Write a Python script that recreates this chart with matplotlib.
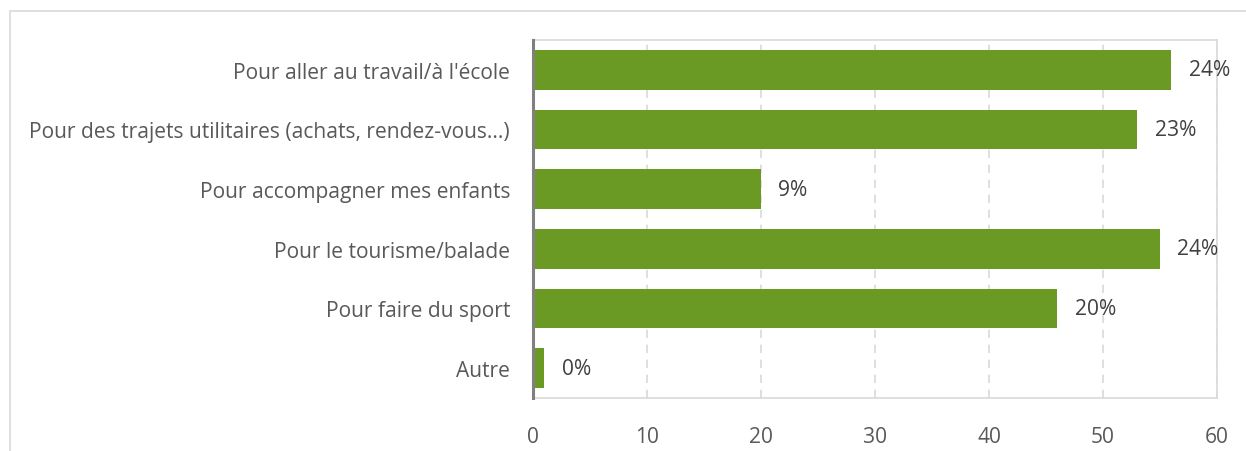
import matplotlib
matplotlib.use("Agg")
import matplotlib.pyplot as plt
from matplotlib.patches import Rectangle

categories = ["Pour aller au travail/à l'école",
              "Pour des trajets utilitaires (achats, rendez-vous...)",
              "Pour accompagner mes enfants",
              "Pour le tourisme/balade",
              "Pour faire du sport",
              "Autre"]
values = [56, 53, 20, 55, 46, 1]
pct_labels = ["24%", "23%", "9%", "24%", "20%", "0%"]
xticks = [0, 10, 20, 30, 40, 50, 60]

W, H = 1246, 452
plt.rcParams['font.family'] = ['Open Sans', 'DejaVu Sans']
fig = plt.figure(figsize=(W/100, H/100), dpi=100)
txt = '#595959'

# outer chart border
fig.patches.append(Rectangle((10/W, -0.1), 1.2, (H-12)/H + 0.1, transform=fig.transFigure,
                             fill=False, edgecolor='#d9d9d9', linewidth=1.2))

ax = fig.add_axes([533/W, 1-399/H, (1217-533)/W, (399-41)/H])
y = list(range(len(categories)))
ax.barh(y, values, height=0.66, color='#6b9a24', zorder=3)
ax.set_ylim(len(categories)-0.5, -0.5)
ax.set_xlim(0, 60)
ax.set_xticks(xticks)
ax.set_xticklabels([str(t) for t in xticks])
ax.set_yticks(y)
ax.set_yticklabels(categories)
ax.tick_params(axis='both', length=0, labelsize=15.1, colors=txt)
ax.tick_params(axis='x', pad=20)
ax.tick_params(axis='y', pad=16.5)
ax.grid(axis='x', color='#d9d9d9', linestyle=(0, (5, 4)), linewidth=1.2, zorder=0)
for s in ['top', 'right', 'bottom']:
    ax.spines[s].set_color('#d9d9d9')
    ax.spines[s].set_linewidth(1.2)
ax.spines['left'].set_color('#808080')
ax.spines['left'].set_linewidth(2.2)
ax.spines['left'].set_zorder(4)

for yi, v, lab in zip(y, values, pct_labels):
    ax.annotate(lab, (v, yi), xytext=(12.5, 0), textcoords='offset points',
                va='center', ha='left', fontsize=15.1, color='#404040', zorder=5)

fig.savefig('out.png', dpi=100)
